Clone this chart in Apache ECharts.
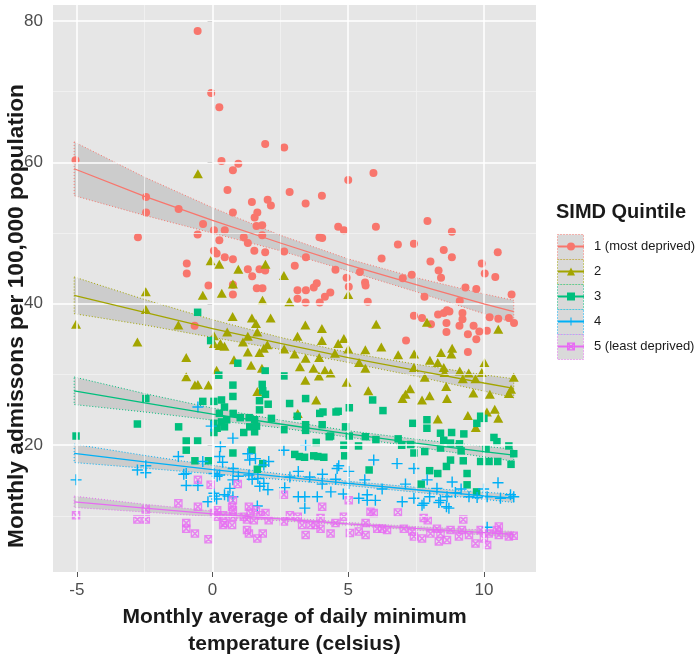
<!DOCTYPE html>
<html><head><meta charset="utf-8">
<script src="https://cdn.jsdelivr.net/npm/echarts@6/dist/echarts.min.js"></script>
<style>html,body{margin:0;padding:0;background:#fff}#c{width:700px;height:655px}</style>
</head><body><div id="c"></div>
<script>
// ---- tick / grid values ----
const xTicks = [-5, 0, 5, 10];
const yTicks = [20, 40, 60, 80];
const xMinor = [-2.5, 2.5, 7.5];
const yMinor = [10, 30, 50, 70];

// ---- legend names ----
const names = ['1 (most deprived)', '2', '3', '4', '5 (least deprived)'];
const colors = ['#F8766D', '#A3A500', '#00BF7D', '#00B0F6', '#E76BF3'];

// ---- observed points [temperature, admissions] ----
const s1 = [[-5.05,60.3],[-2.75,49.4],[-2.45,55.1],[-2.45,52.9],[-1.25,53.4],[-0.95,45.7],[-0.95,44.3],[-0.66,36.9],[-0.55,78.6],[-0.55,49.8],[-0.35,51.3],[-0.15,42.6],[-0.05,69.8],[0.05,50.4],[0.05,47.5],[0.15,47.1],[0.25,67.8],[0.25,49.0],[0.33,60.2],[0.45,50.4],[0.45,46.6],[0.55,56.1],[0.75,58.9],[0.75,52.9],[0.75,46.3],[0.75,42.7],[0.75,41.3],[0.95,59.8],[1.15,49.4],[1.3,48.6],[1.3,44.9],[1.45,54.4],[1.46,43.9],[1.54,47.5],[1.55,52.2],[1.62,51.0],[1.63,42.2],[1.65,52.9],[1.73,44.9],[1.83,51.1],[1.83,49.7],[1.84,42.2],[1.94,62.6],[1.94,47.3],[1.94,44.7],[2.03,54.7],[2.15,53.9],[2.64,62.1],[2.64,47.4],[2.84,55.8],[3.03,45.4],[3.13,41.9],[3.13,40.7],[3.43,54.2],[3.44,46.6],[3.44,41.9],[3.43,40.2],[3.73,42.3],[3.84,42.9],[3.94,49.4],[3.95,40.2],[4.03,55.3],[4.04,49.3],[4.14,41.0],[4.34,41.6],[4.53,44.8],[4.63,50.9],[4.84,50.4],[4.94,43.7],[5.0,57.5],[5.02,42.4],[5.43,44.5],[5.62,43.0],[5.64,42.6],[5.72,40.3],[5.93,58.5],[6.02,50.9],[6.23,46.4],[6.83,48.4],[7.01,43.6],[7.13,34.8],[7.34,44.1],[7.42,48.5],[7.42,38.3],[7.72,38.0],[7.81,41.0],[7.92,51.7],[8.03,46.0],[8.05,37.1],[8.31,38.5],[8.33,44.7],[8.42,43.7],[8.52,47.6],[8.52,38.7],[8.62,37.3],[8.62,36.0],[8.64,39.1],[8.73,38.9],[8.82,50.2],[8.82,46.6],[9.1,36.9],[9.11,40.4],[9.21,38.7],[9.21,37.8],[9.32,42.3],[9.41,35.7],[9.41,33.2],[9.62,36.9],[9.72,42.1],[9.72,35.0],[9.83,36.1],[9.92,45.7],[10.03,44.3],[10.11,36.2],[10.21,38.1],[10.42,43.8],[10.51,47.3],[10.53,37.9],[10.92,38.0],[11.02,41.3],[11.11,37.3]];
const s2 = [[-5.03,37.1],[-2.77,34.6],[-2.46,41.7],[-2.46,39.2],[-1.26,37.0],[-0.97,32.4],[-0.97,29.7],[-0.65,28.5],[-0.54,58.4],[-0.54,28.6],[-0.36,41.2],[-0.15,28.5],[-0.07,46.1],[0.05,35.5],[0.05,34.4],[0.15,30.6],[0.25,45.6],[0.26,34.1],[0.29,34.4],[0.34,41.5],[0.44,34.0],[0.54,36.0],[0.74,38.2],[0.75,42.8],[0.79,32.1],[0.95,44.9],[1.12,34.6],[1.3,35.4],[1.3,33.2],[1.42,31.3],[1.45,38.0],[1.6,37.2],[1.65,36.0],[1.65,27.6],[1.73,33.1],[1.82,30.9],[1.84,40.5],[1.89,33.7],[1.95,45.6],[2.02,34.2],[2.14,38.0],[2.63,44.0],[2.64,33.6],[2.83,40.3],[3.02,32.9],[3.13,35.4],[3.14,24.5],[3.22,31.1],[3.42,37.0],[3.42,29.2],[3.43,32.3],[3.72,30.9],[3.82,26.4],[3.92,29.8],[3.93,32.4],[4.03,36.5],[4.03,34.8],[4.14,30.6],[4.35,30.2],[4.51,33.0],[4.63,34.4],[4.84,35.1],[4.94,28.9],[5.0,41.3],[5.0,33.6],[5.4,31.7],[5.63,33.5],[5.63,30.9],[5.74,27.7],[6.03,37.1],[6.22,33.9],[6.84,32.8],[7.0,26.6],[7.11,27.2],[7.28,28.0],[7.42,31.0],[7.43,32.9],[7.72,26.4],[7.82,29.6],[7.9,37.4],[8.0,27.0],[8.01,32.0],[8.3,31.7],[8.3,23.7],[8.42,33.1],[8.52,31.0],[8.55,30.3],[8.61,28.3],[8.64,26.6],[8.8,32.9],[8.83,33.7],[9.11,30.5],[9.22,29.4],[9.41,24.2],[9.44,30.2],[9.61,27.4],[9.69,29.4],[9.7,22.5],[9.92,30.3],[10.02,31.7],[10.11,24.7],[10.22,27.2],[10.4,25.1],[10.53,36.4],[10.53,23.8],[10.92,27.3],[11.0,27.9],[11.1,29.6]];
const s3 = [[-5.03,21.3],[-2.77,23.0],[-2.46,26.6],[-1.25,22.6],[-0.97,20.6],[-0.97,19.3],[-0.65,17.8],[-0.55,38.8],[-0.55,20.6],[-0.36,26.2],[-0.15,17.8],[-0.07,34.8],[0.05,26.2],[0.05,23.1],[0.05,21.8],[0.17,22.4],[0.23,29.9],[0.25,24.5],[0.33,26.4],[0.33,23.3],[0.44,25.4],[0.44,22.6],[0.52,23.6],[0.75,28.5],[0.75,26.9],[0.75,18.9],[0.76,24.5],[0.93,31.6],[1.02,23.9],[1.15,21.8],[1.35,23.9],[1.37,22.6],[1.45,19.3],[1.55,23.6],[1.55,21.9],[1.62,22.7],[1.65,16.6],[1.73,26.3],[1.73,25.0],[1.83,28.6],[1.85,27.7],[1.85,17.4],[1.94,30.5],[1.95,27.2],[2.05,25.8],[2.17,23.8],[2.63,29.8],[2.63,22.2],[2.84,25.9],[3.03,18.7],[3.12,24.1],[3.2,18.4],[3.39,18.3],[3.43,26.6],[3.43,22.9],[3.43,22.1],[3.73,18.5],[3.82,20.4],[3.88,18.4],[3.95,24.5],[4.04,22.9],[4.07,24.7],[4.1,18.3],[4.3,21.2],[4.35,21.3],[4.55,24.7],[4.63,24.8],[4.84,20.0],[4.87,18.5],[4.9,22.6],[5.04,25.3],[5.04,21.3],[5.38,19.9],[5.63,21.2],[5.77,16.5],[5.9,26.4],[6.02,20.8],[6.28,24.9],[6.84,20.9],[6.97,20.0],[7.3,20.1],[7.38,23.1],[7.42,18.9],[7.69,14.5],[7.82,19.1],[7.9,23.6],[7.9,22.4],[8.0,16.4],[8.3,16.0],[8.4,21.7],[8.4,19.6],[8.52,20.7],[8.62,17.0],[8.77,20.3],[8.77,17.9],[8.81,21.8],[9.1,20.2],[9.16,19.2],[9.24,17.8],[9.26,21.6],[9.38,16.0],[9.38,14.4],[9.73,13.4],[9.74,23.1],[9.88,24.1],[9.88,17.7],[10.0,23.8],[10.08,19.5],[10.19,17.7],[10.37,21.1],[10.48,20.5],[10.51,17.7],[10.92,19.9],[11.0,17.3],[11.1,18.8]];
const s4 = [[-5.03,15.1],[-2.77,16.5],[-2.46,17.1],[-2.46,16.1],[-1.26,18.4],[-1.06,15.9],[-0.97,16.0],[-0.97,14.3],[-0.54,25.4],[-0.54,14.3],[-0.36,17.7],[-0.17,12.0],[-0.05,22.7],[0.05,16.0],[0.05,13.2],[0.07,12.8],[0.15,12.4],[0.17,15.6],[0.26,18.4],[0.26,15.8],[0.29,19.8],[0.37,17.6],[0.44,13.0],[0.57,12.8],[0.64,13.9],[0.75,21.0],[0.75,15.1],[0.75,12.7],[0.76,16.7],[0.95,15.6],[1.3,18.8],[1.34,15.8],[1.37,17.9],[1.46,15.2],[1.58,18.1],[1.65,11.4],[1.67,15.3],[1.74,14.2],[1.89,17.2],[1.89,14.6],[2.04,13.7],[2.07,17.7],[2.63,19.3],[2.66,14.0],[2.85,15.5],[3.16,16.3],[3.16,12.7],[3.4,12.7],[3.4,11.1],[3.43,20.0],[3.58,15.5],[3.86,12.7],[4.04,14.5],[4.05,15.9],[4.36,13.4],[4.54,15.2],[4.59,16.7],[4.65,17.1],[4.82,13.1],[5.02,16.3],[5.02,14.6],[5.39,12.5],[5.61,15.1],[5.7,13.0],[5.7,12.2],[5.94,17.9],[6.0,12.2],[6.25,13.8],[6.8,17.4],[6.99,12.0],[7.11,14.5],[7.42,16.7],[7.42,12.5],[7.72,11.5],[7.79,11.8],[7.91,15.1],[8.0,12.7],[8.27,13.9],[8.34,11.9],[8.4,12.2],[8.62,11.3],[8.64,12.7],[8.71,11.1],[8.83,14.8],[8.95,13.3],[9.16,13.8],[9.45,12.7],[9.75,12.6],[9.99,13.8],[10.12,12.7],[10.12,8.4],[10.52,14.7],[10.61,12.5],[10.98,13.0],[11.1,12.7]];
const s5 = [[-5.03,10.1],[-2.77,9.5],[-2.46,10.9],[-2.46,9.5],[-1.26,11.8],[-0.97,9.0],[-0.97,8.2],[-0.65,7.5],[-0.54,15.1],[-0.54,11.3],[-0.15,6.7],[-0.07,14.4],[0.05,10.4],[0.15,9.9],[0.17,10.8],[0.39,10.1],[0.39,8.7],[0.44,9.0],[0.72,11.3],[0.72,8.7],[0.75,12.2],[0.75,10.8],[0.75,9.9],[0.93,14.5],[1.15,9.9],[1.27,9.5],[1.27,8.0],[1.34,11.3],[1.34,7.5],[1.4,10.4],[1.52,9.4],[1.6,10.8],[1.65,6.8],[1.77,10.1],[1.85,7.5],[1.95,10.4],[2.07,9.4],[2.63,13.0],[2.63,9.2],[2.85,10.1],[3.14,9.9],[3.3,8.7],[3.43,7.3],[3.61,8.7],[3.8,8.7],[3.98,9.7],[3.98,8.2],[4.04,11.3],[4.35,7.5],[4.53,9.0],[4.84,9.9],[5.02,12.2],[5.06,7.6],[5.39,7.8],[5.64,9.0],[5.64,7.3],[5.82,10.6],[5.94,10.4],[6.07,8.2],[6.25,8.2],[6.43,8.0],[6.83,10.5],[7.05,8.2],[7.36,7.8],[7.42,7.1],[7.72,6.8],[7.78,9.7],[7.93,9.4],[8.03,7.5],[8.27,8.2],[8.34,6.4],[8.4,7.5],[8.64,6.6],[8.77,8.0],[9.08,7.1],[9.19,8.0],[9.24,9.5],[9.45,7.3],[9.69,6.1],[9.88,8.0],[10.0,6.8],[10.12,5.9],[10.18,7.5],[10.48,8.0],[10.55,8.5],[10.55,7.3],[10.92,7.1],[11.1,7.2]];

// ---- fitted trend and confidence half-widths ----
const fitX = [-5.1, -2.5, 0, 2.5, 5, 7.5, 10, 11.1];
const fit1 = [59.1, 55.2, 51.8, 48.6, 45.5, 42.7, 40.0, 38.9];
const fit2 = [41.2, 38.8, 36.5, 34.4, 32.4, 30.6, 28.8, 28.05];
const fit3 = [27.7, 26.0, 24.4, 23.0, 21.6, 20.3, 19.1, 18.6];
const fit4 = [18.85, 17.65, 16.55, 15.55, 14.6, 13.7, 12.85, 12.5];
const fit5 = [12.0, 11.1, 10.3, 9.57, 8.88, 8.24, 7.65, 7.4];
const hw1 = [3.8, 2.7, 1.8, 1.1, 0.85, 1.0, 1.4, 1.6];
const hw2 = [2.6, 1.8, 1.25, 0.85, 0.7, 0.85, 1.15, 1.35];
const hw3 = [1.95, 1.3, 0.85, 0.55, 0.45, 0.55, 0.75, 0.85];
const hw4 = [1.3, 0.9, 0.6, 0.4, 0.3, 0.35, 0.5, 0.6];
const hw5 = [0.8, 0.55, 0.4, 0.25, 0.2, 0.25, 0.35, 0.4];

const pts = [s1, s2, s3, s4, s5];
const fits = [fit1, fit2, fit3, fit4, fit5];
const hws = [hw1, hw2, hw3, hw4, hw5];

const plusPath = 'path://M8.7,0H11.3V8.7H20V11.3H11.3V20H8.7V11.3H0V8.7H8.7Z';
const boxXPath = 'path://M0,0H20V20H0Z M3,3V17H17V3Z M3,3L5.8,3L17,14.2L17,17L14.2,17L3,5.8Z M17,3L17,5.8L5.8,17L3,17L3,14.2L14.2,3Z';
const symbols = ['circle', 'triangle', 'rect', plusPath, boxXPath];
const sizes = [8, [10, 9], 7.5, 11, 8.5];

const FONT = 'Liberation Sans, Arial, Helvetica, sans-serif';

function bandSeries(i) {
  const fit = fits[i], hw = hws[i];
  return {
    type: 'custom', z: 2, silent: true,
    data: [[fitX[0], fit[0]]],
    renderItem: function (params, api) {
      const p = [];
      for (let k = 0; k < fitX.length; k++) p.push(api.coord([fitX[k], fit[k] + hw[k]]));
      for (let k = fitX.length - 1; k >= 0; k--) p.push(api.coord([fitX[k], fit[k] - hw[k]]));
      return {
        type: 'polygon', shape: { points: p },
        style: { fill: 'rgba(150,150,150,0.32)', stroke: colors[i], lineWidth: 1, lineDash: [1, 2] }
      };
    }
  };
}

const series = [];
// fit lines first (legend icon taken from them)
for (let i = 0; i < 5; i++) {
  series.push({
    type: 'line', name: names[i], z: 5, silent: true,
    data: fitX.map((x, k) => [x, fits[i][k]]),
    showSymbol: false, symbol: symbols[i], symbolSize: 8,
    lineStyle: { color: colors[i], width: 1.3 },
    itemStyle: { color: colors[i] },
    animation: false
  });
}
for (let i = 0; i < 5; i++) series.push(bandSeries(i));
for (let i = 0; i < 5; i++) {
  series.push({
    type: 'scatter', name: names[i], z: 3, silent: true,
    data: pts[i], symbol: symbols[i], symbolSize: sizes[i],
    itemStyle: { color: colors[i], opacity: i === 4 ? 0.8 : 1 },
    animation: false
  });
}
// grid lines
series.push({
  type: 'line', data: [], z: 1, silent: true,
  markLine: {
    silent: true, symbol: 'none', label: { show: false }, animation: false,
    data: [].concat(
      xMinor.map(v => ({ xAxis: v, lineStyle: { color: '#F3F3F3', width: 0.8, type: 'solid' } })),
      yMinor.map(v => ({ yAxis: v, lineStyle: { color: '#F3F3F3', width: 0.8, type: 'solid' } })),
      xTicks.map(v => ({ xAxis: v, lineStyle: { color: '#FFFFFF', width: 1.5, type: 'solid' } })),
      yTicks.map(v => ({ yAxis: v, lineStyle: { color: '#FFFFFF', width: 1.5, type: 'solid' } }))
    )
  }
});

const keyGraphics = names.map((n, i) => ({
  type: 'rect', left: 557, top: 234 + 25 * i, z: 0,
  shape: { width: 26, height: 25 },
  style: { fill: '#D9D9D9', stroke: colors[i], lineWidth: 1, lineDash: [1, 2] }
}));
keyGraphics.push({
  type: 'text', x: 17, y: 316, rotation: Math.PI / 2, z: 10,
  style: {
    text: 'Monthly admissons per 100,000 population',
    fontSize: 22.7, fontWeight: 'bold', fontFamily: FONT, fill: '#1A1A1A',
    align: 'center', verticalAlign: 'middle'
  }
});

const chart = echarts.init(document.getElementById('c'));
chart.setOption({
  animation: false,
  backgroundColor: '#FFFFFF',
  title: {
    text: 'SIMD Quintile', left: 556, top: 202, padding: 0,
    textStyle: { fontSize: 20, fontWeight: 'bold', color: '#1A1A1A', fontFamily: FONT }
  },
  graphic: keyGraphics,
  legend: {
    orient: 'vertical', left: 557, top: 239, padding: 0,
    itemWidth: 26, itemHeight: 10, itemGap: 10, selectedMode: false, z: 5,
    textStyle: { fontSize: 13, color: '#1A1A1A', lineHeight: 15, padding: [0, 0, 0, 5], fontFamily: FONT },
    data: names
  },
  grid: { left: 53, top: 5, width: 483, height: 567, show: true, backgroundColor: '#E6E6E6', borderWidth: 0, containLabel: false, outerBoundsMode: 'none' },
  xAxis: {
    type: 'value', min: -5.88, max: 11.92,
    splitLine: { show: false }, axisLine: { show: false },
    axisTick: { show: true, length: 5, lineStyle: { color: '#555' }, customValues: xTicks },
    axisLabel: { customValues: xTicks, fontSize: 17, color: '#4D4D4D', margin: 10, fontFamily: FONT },
    name: 'Monthly average of daily minimum\ntemperature (celsius)',
    nameLocation: 'middle', nameGap: 21,
    nameTextStyle: { fontSize: 21, fontWeight: 'bold', color: '#1A1A1A', lineHeight: 27, fontFamily: FONT }
  },
  yAxis: {
    type: 'value', min: 2.07, max: 82.26,
    splitLine: { show: false }, axisLine: { show: false },
    axisTick: { show: true, length: 5, lineStyle: { color: '#555' }, customValues: yTicks },
    axisLabel: { customValues: yTicks, fontSize: 17, color: '#4D4D4D', margin: 10, fontFamily: FONT }
  },
  series: series
});
</script>
</body></html>
